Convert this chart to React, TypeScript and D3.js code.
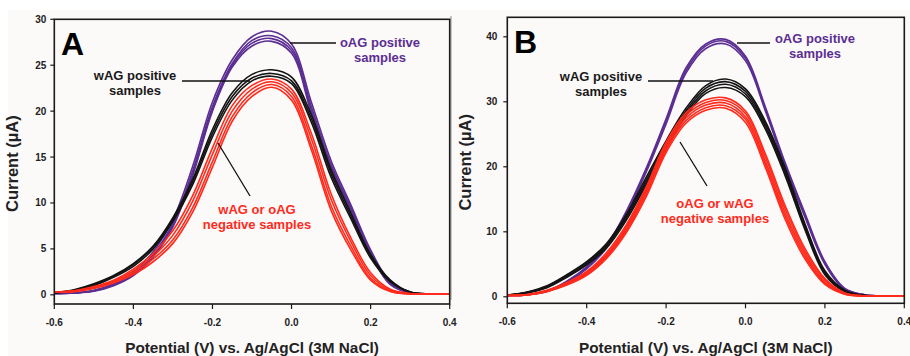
import React from "react";
import * as d3 from "d3";

// ---------- DATA ----------
const XS = [-0.6, -0.55, -0.5, -0.45, -0.4, -0.35, -0.3, -0.25, -0.2, -0.15, -0.1, -0.05, 0.0, 0.05, 0.1, 0.15, 0.2, 0.25, 0.3, 0.35, 0.4];

const X_TICKS = [-0.6, -0.4, -0.2, 0.0, 0.2, 0.4];
const X_TICK_LABELS = ["-0.6", "-0.4", "-0.2", "0.0", "0.2", "0.4"];
const Y_TICKS_A = [0, 5, 10, 15, 20, 25, 30];
const Y_TICKS_B = [0, 10, 20, 30, 40];

// Panel A
const A_PURPLE_1 = [0.15, 0.2, 0.5, 1.2, 2.5, 4.7, 8.2, 14.0, 21.0, 25.6, 28.1, 28.7, 27.3, 21.0, 14.6, 9.8, 4.9, 1.4, 0.25, 0.1, 0.1];
const A_PURPLE_2 = [0.15, 0.2, 0.45, 1.1, 2.3, 4.4, 7.8, 13.5, 20.5, 25.2, 27.7, 28.2, 26.9, 20.5, 14.2, 9.5, 4.7, 1.25, 0.2, 0.1, 0.1];
const A_PURPLE_3 = [0.15, 0.2, 0.42, 1.05, 2.2, 4.25, 7.6, 13.2, 20.2, 25.0, 27.4, 27.9, 26.6, 20.1, 13.9, 9.3, 4.5, 1.15, 0.2, 0.1, 0.1];
const A_PURPLE_4 = [0.15, 0.2, 0.4, 1.0, 2.1, 4.1, 7.4, 13.0, 20.0, 24.8, 27.1, 27.6, 26.3, 19.8, 13.6, 9.1, 4.4, 1.1, 0.2, 0.1, 0.1];

const A_BLACK_1 = [0.2, 0.55, 1.2, 2.1, 3.4, 5.3, 8.4, 12.6, 18.0, 22.0, 24.0, 24.5, 23.7, 19.6, 13.6, 8.9, 4.4, 1.6, 0.3, 0.1, 0.1];
const A_BLACK_2 = [0.2, 0.5, 1.1, 2.0, 3.3, 5.2, 8.2, 12.3, 17.6, 21.6, 23.6, 24.1, 23.3, 19.2, 13.2, 8.6, 4.2, 1.5, 0.3, 0.1, 0.1];
const A_BLACK_3 = [0.2, 0.45, 1.0, 1.9, 3.1, 5.0, 8.0, 12.0, 17.2, 21.2, 23.3, 23.8, 23.0, 18.8, 12.8, 8.3, 4.0, 1.4, 0.3, 0.1, 0.1];

const A_RED_1 = [0.3, 0.45, 0.9, 1.6, 2.8, 4.5, 7.0, 10.8, 16.0, 20.6, 22.8, 23.5, 22.4, 17.6, 11.0, 6.2, 2.4, 0.6, 0.15, 0.1, 0.1];
const A_RED_2 = [0.3, 0.4, 0.8, 1.5, 2.6, 4.2, 6.5, 10.2, 15.3, 20.0, 22.4, 23.2, 22.0, 17.0, 10.4, 5.8, 2.1, 0.5, 0.1, 0.1, 0.1];
const A_RED_3 = [0.3, 0.4, 0.75, 1.4, 2.4, 3.9, 6.0, 9.5, 14.5, 19.4, 22.0, 22.9, 21.6, 16.3, 9.7, 5.3, 1.8, 0.4, 0.1, 0.1, 0.1];
const A_RED_4 = [0.3, 0.35, 0.7, 1.3, 2.2, 3.6, 5.6, 9.0, 13.9, 18.9, 21.6, 22.6, 21.2, 15.8, 9.2, 4.9, 1.6, 0.35, 0.1, 0.1, 0.1];

// Panel B
const B_PURPLE_1 = [0.2, 0.35, 0.9, 2.4, 4.6, 7.9, 13.2, 19.8, 27.4, 35.2, 38.9, 39.6, 37.0, 29.2, 20.6, 12.8, 5.4, 1.3, 0.3, 0.1, 0.1];
const B_PURPLE_2 = [0.2, 0.3, 0.85, 2.3, 4.5, 7.7, 13.0, 19.5, 27.0, 34.8, 38.6, 39.3, 36.7, 28.9, 20.3, 12.5, 5.2, 1.2, 0.3, 0.1, 0.1];
const B_PURPLE_3 = [0.2, 0.3, 0.8, 2.2, 4.3, 7.5, 12.7, 19.2, 26.6, 34.4, 38.2, 38.9, 36.3, 28.6, 20.0, 12.2, 5.0, 1.1, 0.3, 0.1, 0.1];

const B_BLACK_1 = [0.25, 0.75, 1.7, 3.4, 5.4, 8.2, 12.7, 18.4, 24.0, 29.0, 32.5, 33.5, 32.0, 27.0, 19.8, 11.2, 4.0, 1.0, 0.2, 0.1, 0.1];
const B_BLACK_2 = [0.25, 0.7, 1.6, 3.3, 5.3, 8.0, 12.4, 18.0, 23.6, 28.6, 32.1, 33.1, 31.6, 26.6, 19.4, 10.9, 3.8, 0.9, 0.2, 0.1, 0.1];
const B_BLACK_3 = [0.25, 0.65, 1.5, 3.1, 5.1, 7.8, 12.1, 17.6, 23.2, 28.2, 31.7, 32.7, 31.2, 26.2, 19.0, 10.6, 3.6, 0.8, 0.2, 0.1, 0.1];
const B_BLACK_4 = [0.2, 0.6, 1.4, 3.0, 4.9, 7.5, 11.8, 17.2, 22.8, 27.8, 31.3, 32.2, 30.8, 25.8, 18.6, 10.3, 3.4, 0.8, 0.2, 0.1, 0.1];

const B_RED_1 = [0.2, 0.35, 1.0, 2.2, 3.9, 6.8, 11.1, 16.9, 23.8, 28.3, 30.3, 30.6, 28.6, 22.0, 14.0, 7.4, 2.8, 0.6, 0.15, 0.1, 0.1];
const B_RED_2 = [0.2, 0.3, 0.95, 2.1, 3.7, 6.5, 10.8, 16.5, 23.4, 27.9, 29.9, 30.2, 28.2, 21.5, 13.5, 7.0, 2.6, 0.55, 0.15, 0.1, 0.1];
const B_RED_3 = [0.2, 0.3, 0.9, 2.0, 3.6, 6.3, 10.5, 16.2, 23.0, 27.5, 29.5, 29.8, 27.7, 20.9, 12.9, 6.6, 2.3, 0.5, 0.1, 0.1, 0.1];
const B_RED_4 = [0.2, 0.3, 0.85, 1.9, 3.4, 6.1, 10.2, 15.8, 22.6, 27.1, 29.1, 29.4, 27.3, 20.4, 12.4, 6.2, 2.1, 0.45, 0.1, 0.1, 0.1];
const B_RED_5 = [0.2, 0.3, 0.8, 1.8, 3.3, 5.9, 9.9, 15.4, 22.2, 26.7, 28.7, 29.0, 26.8, 19.9, 11.9, 5.8, 1.9, 0.4, 0.1, 0.1, 0.1];

const LABELS_A = {
  purple: ["oAG positive", "samples"],
  black: ["wAG positive", "samples"],
  red: ["wAG or oAG", "negative samples"],
};
const LABELS_B = {
  purple: ["oAG positive", "samples"],
  black: ["wAG positive", "samples"],
  red: ["oAG or wAG", "negative samples"],
};
const X_TITLE = "Potential (V) vs. Ag/AgCl (3M NaCl)";
const Y_TITLE = "Current (µA)";

// ---------- STYLE ----------
const PURPLE = "#5b2e92";
const BLACK = "#141414";
const RED = "#ff2b1c";
const FONT = "'Liberation Sans', Arial, Helvetica, sans-serif";

type PanelProps = {
  letter: string;
  left: number;
  right: number;
  top: number;
  bottom: number;
  yMax: number;
  yTicks: number[];
  purple: number[][];
  black: number[][];
  red: number[][];
  labels: { purple: string[]; black: string[]; red: string[] };
  lab: {
    purple: [number, number];
    black: [number, number];
    red: [number, number];
    purpleLine: number[];
    blackLine: number[];
    redLine: number[];
    letter: [number, number];
    yLabelGap: number;
  };
};

function Panel(p: PanelProps) {
  const x = d3.scaleLinear().domain([-0.6, 0.4]).range([p.left, p.right]);
  const y = d3.scaleLinear().domain([-1, p.yMax]).range([p.bottom, p.top]);
  const line = d3
    .line<number>()
    .x((_, i) => x(XS[i]))
    .y((d) => y(d))
    .curve(d3.curveCatmullRom.alpha(0.5));

  const drawGroup = (arr: number[][], color: string, key: string) =>
    arr.map((vals, i) => (
      <path key={key + i} d={line(vals) || ""} fill="none" stroke={color} strokeWidth={1.6} />
    ));

  const clipId = "clip" + p.letter;
  const tx = (p.left + p.right) / 2;

  return (
    <g>
      <defs>
        <clipPath id={clipId}>
          <rect x={p.left} y={p.top} width={p.right - p.left} height={p.bottom - p.top} />
        </clipPath>
      </defs>
      <g clipPath={`url(#${clipId})`}>
        {drawGroup(p.purple, PURPLE, "p")}
        {drawGroup(p.black, BLACK, "k")}
        {drawGroup(p.red, RED, "r")}
      </g>
      <rect x={p.left} y={p.top} width={p.right - p.left} height={p.bottom - p.top} fill="none" stroke="#1a1a1a" strokeWidth={1.6} />
      {p.yTicks.map((t) => (
        <g key={"y" + t}>
          <line x1={p.left - 4} x2={p.left} y1={y(t)} y2={y(t)} stroke="#1a1a1a" strokeWidth={1.2} />
          <text x={p.left - p.lab.yLabelGap} y={y(t)} dy="0.35em" textAnchor="end" fontSize={10} fontWeight="bold" fontFamily={FONT} fill="#222">
            {t}
          </text>
        </g>
      ))}
      {X_TICKS.map((t, i) => (
        <g key={"x" + t}>
          <line x1={x(t)} x2={x(t)} y1={p.bottom} y2={p.bottom + 5} stroke="#1a1a1a" strokeWidth={1.2} />
          <text x={x(t)} y={p.bottom + 22} textAnchor="middle" fontSize={10} fontWeight="bold" fontFamily={FONT} fill="#222">
            {X_TICK_LABELS[i]}
          </text>
        </g>
      ))}
      <text x={tx} y={353} textAnchor="middle" fontSize={15.3} fontWeight="bold" fontFamily={FONT} fill="#222">
        {X_TITLE}
      </text>
      <text
        transform={`translate(${p.left - 36},${(p.top + p.bottom) / 2 + 2}) rotate(-90)`}
        textAnchor="middle"
        fontSize={16.5}
        fontWeight="bold"
        fontFamily={FONT}
        fill="#222"
      >
        {Y_TITLE}
      </text>
      <text x={p.lab.letter[0]} y={p.lab.letter[1]} fontSize={32} fontWeight="bold" fontFamily={FONT} fill="#000">
        {p.letter}
      </text>
      <line x1={p.lab.purpleLine[0]} y1={p.lab.purpleLine[1]} x2={p.lab.purpleLine[2]} y2={p.lab.purpleLine[3]} stroke="#111" strokeWidth={1.5} />
      <line x1={p.lab.blackLine[0]} y1={p.lab.blackLine[1]} x2={p.lab.blackLine[2]} y2={p.lab.blackLine[3]} stroke="#111" strokeWidth={1.5} />
      <line x1={p.lab.redLine[0]} y1={p.lab.redLine[1]} x2={p.lab.redLine[2]} y2={p.lab.redLine[3]} stroke="#111" strokeWidth={1.3} />
      {p.labels.purple.map((s, i) => (
        <text key={"pl" + i} x={p.lab.purple[0]} y={p.lab.purple[1] + i * 15} textAnchor="middle" fontSize={13} fontWeight="bold" fontFamily={FONT} fill={PURPLE}>
          {s}
        </text>
      ))}
      {p.labels.black.map((s, i) => (
        <text key={"bl" + i} x={p.lab.black[0]} y={p.lab.black[1] + i * 15} textAnchor="middle" fontSize={13} fontWeight="bold" fontFamily={FONT} fill="#1a1a1a">
          {s}
        </text>
      ))}
      {p.labels.red.map((s, i) => (
        <text key={"rl" + i} x={p.lab.red[0]} y={p.lab.red[1] + i * 15} textAnchor="middle" fontSize={13} fontWeight="bold" fontFamily={FONT} fill={RED}>
          {s}
        </text>
      ))}
    </g>
  );
}

export default function App() {
  return (
    <svg width={910} height={356} style={{ position: "absolute", left: 0, top: 0, background: "#fff" }}>
      <rect x={0} y={0} width={910} height={356} fill="#ffffff" />
      <rect x={8} y={10} width={902} height={346} fill="#fcf9f9" />
      <line x1={451} x2={451} y1={16} y2={300} stroke="#b5b5b5" strokeWidth={1.5} />
      <Panel
        letter="A"
        left={54.3}
        right={449.7}
        top={19.3}
        bottom={304}
        yMax={30}
        yTicks={Y_TICKS_A}
        purple={[A_PURPLE_1, A_PURPLE_2, A_PURPLE_3, A_PURPLE_4]}
        black={[A_BLACK_1, A_BLACK_2, A_BLACK_3]}
        red={[A_RED_1, A_RED_2, A_RED_3, A_RED_4]}
        labels={LABELS_A}
        lab={{
          purple: [380, 47],
          black: [135, 80],
          red: [257, 214],
          purpleLine: [290, 43, 336, 43],
          blackLine: [182, 81, 250, 81],
          redLine: [218, 143, 250, 196],
          letter: [61, 55],
          yLabelGap: 8,
        }}
      />
      <Panel
        letter="B"
        left={507.3}
        right={904.3}
        top={17.3}
        bottom={303.3}
        yMax={43}
        yTicks={Y_TICKS_B}
        purple={[B_PURPLE_1, B_PURPLE_2, B_PURPLE_3]}
        black={[B_BLACK_1, B_BLACK_2, B_BLACK_3, B_BLACK_4]}
        red={[B_RED_1, B_RED_2, B_RED_3, B_RED_4, B_RED_5]}
        labels={LABELS_B}
        lab={{
          purple: [815, 42.5],
          black: [601, 81],
          red: [715, 207.5],
          purpleLine: [737, 43, 770, 43],
          blackLine: [648, 81, 713, 81],
          redLine: [680, 142, 707, 186],
          letter: [514, 53],
          yLabelGap: 10,
        }}
      />
    </svg>
  );
}
